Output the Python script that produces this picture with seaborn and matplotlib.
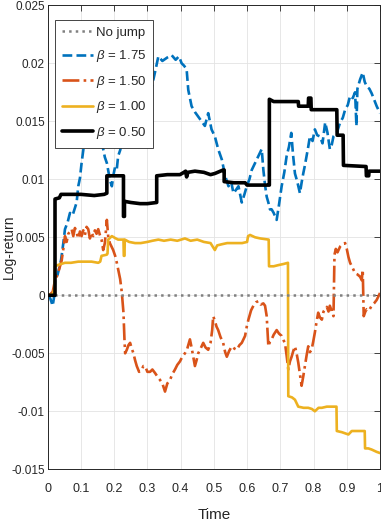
import matplotlib
matplotlib.use("Agg")
import matplotlib.pyplot as plt
import seaborn as sns

# Values (time in [0, 1], log-return)
x_ticks = [0, 0.1, 0.2, 0.3, 0.4, 0.5, 0.6, 0.7, 0.8, 0.9, 1.0]
x_tick_labels = ["0", "0.1", "0.2", "0.3", "0.4", "0.5", "0.6", "0.7", "0.8", "0.9", "1"]
y_ticks = [-0.015, -0.01, -0.005, 0, 0.005, 0.01, 0.015, 0.02, 0.025]
y_tick_labels = ["-0.015", "-0.01", "-0.005", "0", "0.005", "0.01", "0.015", "0.02", "0.025"]

labels = ["No jump", r"$\beta$ = 1.75", r"$\beta$ = 1.50", r"$\beta$ = 1.00", r"$\beta$ = 0.50"]

nojump_t = [0.0, 1.0]
nojump_y = [0.0, 0.0]

b175_t = [0, 0.008, 0.015, 0.02, 0.022, 0.03, 0.04, 0.047, 0.052, 0.06, 0.067, 0.075,
          0.087, 0.092, 0.097, 0.102, 0.107, 0.112, 0.117, 0.122, 0.13, 0.142, 0.147,
          0.152, 0.16, 0.167, 0.172, 0.178, 0.183, 0.187, 0.193, 0.198, 0.203, 0.208,
          0.212, 0.218, 0.223, 0.228, 0.233, 0.243, 0.253, 0.26, 0.268, 0.275, 0.283,
          0.293, 0.3, 0.308, 0.318, 0.325, 0.333, 0.345, 0.36, 0.373, 0.385, 0.395,
          0.403, 0.41, 0.418, 0.423, 0.428, 0.433, 0.443, 0.453, 0.463, 0.473, 0.483,
          0.493, 0.503, 0.513, 0.524, 0.534, 0.544, 0.552, 0.559, 0.567, 0.574, 0.584,
          0.592, 0.599, 0.607, 0.614, 0.624, 0.634, 0.644, 0.649, 0.654, 0.659, 0.664,
          0.669, 0.674, 0.68, 0.689, 0.696, 0.704, 0.712, 0.719, 0.726, 0.733, 0.738,
          0.744, 0.751, 0.759, 0.764, 0.769, 0.774, 0.779, 0.784, 0.789, 0.797, 0.804,
          0.811, 0.819, 0.827, 0.835, 0.842, 0.849, 0.855, 0.86, 0.87, 0.88, 0.888,
          0.895, 0.903, 0.91, 0.918, 0.925, 0.929, 0.932, 0.94, 0.948, 0.954, 0.96,
          0.968, 0.975, 0.983, 0.99, 0.995, 1.0]
b175_y = [0, -0.0003, -0.0009, 0.0, 0.0013, 0.0018, 0.0030, 0.0045, 0.0057, 0.0063,
          0.0071, 0.0069, 0.0080, 0.0094, 0.0101, 0.0114, 0.0125, 0.0134, 0.0141, 0.0146,
          0.0141, 0.0137, 0.0145, 0.0143, 0.0133, 0.0126, 0.0119, 0.0114, 0.0106, 0.0100,
          0.0094, 0.0104, 0.0111, 0.0109, 0.0120, 0.0125, 0.0131, 0.0140, 0.0151, 0.0157,
          0.0160, 0.0152, 0.0154, 0.0149, 0.0157, 0.0160, 0.0165, 0.0172, 0.0186, 0.0195,
          0.0206, 0.0202, 0.0205, 0.0207, 0.0203, 0.0206, 0.0200, 0.0198, 0.0195, 0.0177,
          0.0170, 0.0163, 0.0158, 0.0154, 0.0150, 0.0146, 0.0157, 0.0143, 0.0137, 0.0126,
          0.0117, 0.0103, 0.0094, 0.0098, 0.0088, 0.0091, 0.0094, 0.0080, 0.0087, 0.0094,
          0.0100, 0.0108, 0.0114, 0.0120, 0.0126, 0.0108, 0.0095, 0.0085, 0.0080, 0.0074,
          0.0074, 0.0071, 0.0065, 0.0078, 0.0094, 0.0106, 0.0120, 0.0128, 0.0140, 0.0122,
          0.0105, 0.0098, 0.0088, 0.0097, 0.0105, 0.0112, 0.0120, 0.0128, 0.0137, 0.0133,
          0.0143, 0.0138, 0.0137, 0.0131, 0.0149, 0.0140, 0.0126, 0.0130, 0.0137, 0.0140,
          0.0149, 0.0153, 0.0160, 0.0164, 0.0172, 0.0170, 0.0175, 0.0146, 0.0178, 0.0186,
          0.0192, 0.0184, 0.0180, 0.0178, 0.0174, 0.0168, 0.0163, 0.0160, 0.0157]

b150_t = [0, 0.008, 0.015, 0.022, 0.03, 0.037, 0.042, 0.047, 0.052, 0.057, 0.062, 0.067,
          0.072, 0.077, 0.082, 0.087, 0.092, 0.097, 0.102, 0.107, 0.112, 0.117, 0.122,
          0.127, 0.132, 0.137, 0.142, 0.147, 0.152, 0.157, 0.162, 0.167, 0.172, 0.178,
          0.182, 0.187, 0.192, 0.197, 0.203, 0.208, 0.213, 0.218, 0.222, 0.224, 0.228,
          0.231, 0.233, 0.238, 0.243, 0.248, 0.253, 0.258, 0.263, 0.268, 0.275, 0.283,
          0.288, 0.293, 0.3, 0.308, 0.315, 0.323, 0.33, 0.338, 0.345, 0.353, 0.36, 0.368,
          0.375, 0.383, 0.39, 0.398, 0.405, 0.413, 0.42, 0.428, 0.433, 0.438, 0.443,
          0.448, 0.453, 0.46, 0.468, 0.475, 0.483, 0.49, 0.495, 0.498, 0.503, 0.508,
          0.513, 0.52, 0.528, 0.534, 0.539, 0.546, 0.554, 0.562, 0.569, 0.577, 0.584,
          0.594, 0.599, 0.604, 0.612, 0.619, 0.627, 0.634, 0.641, 0.649, 0.654, 0.659,
          0.664, 0.669, 0.674, 0.68, 0.689, 0.696, 0.704, 0.71, 0.714, 0.719, 0.724,
          0.729, 0.734, 0.739, 0.744, 0.749, 0.754, 0.759, 0.764, 0.769, 0.774, 0.779,
          0.784, 0.789, 0.794, 0.799, 0.804, 0.809, 0.814, 0.819, 0.825, 0.83, 0.835,
          0.84, 0.845, 0.849, 0.855, 0.86, 0.863, 0.867, 0.872, 0.88, 0.887, 0.895, 0.9,
          0.905, 0.91, 0.917, 0.925, 0.932, 0.94, 0.945, 0.948, 0.951, 0.956, 0.96,
          0.967, 0.975, 0.982, 0.99, 0.995, 1.0]
b150_y = [0, 0.0001, 0.0003, 0.0013, 0.0018, 0.0025, 0.0030, 0.0040, 0.0051, 0.0046,
          0.0053, 0.0055, 0.0057, 0.0051, 0.0058, 0.0054, 0.0049, 0.0055, 0.0051, 0.0056,
          0.0052, 0.0059, 0.0057, 0.0049, 0.0054, 0.0051, 0.0056, 0.0053, 0.0057, 0.0052,
          0.0048, 0.0039, 0.0045, 0.0065, 0.0051, 0.0045, 0.0042, 0.0039, 0.0034, 0.0028,
          0.0021, 0.0014, 0.0005, -0.0001, -0.0015, -0.0038, -0.0050, -0.0047, -0.0043,
          -0.0041, -0.0046, -0.0050, -0.0056, -0.0061, -0.0066, -0.0064, -0.0061, -0.0061,
          -0.0066, -0.0066, -0.0064, -0.0067, -0.0070, -0.0073, -0.0076, -0.0083, -0.0076,
          -0.0073, -0.0068, -0.0064, -0.0060, -0.0057, -0.0053, -0.0050, -0.0046, -0.0038,
          -0.0045, -0.0053, -0.0061, -0.0056, -0.0050, -0.0046, -0.0041, -0.0045, -0.0047,
          -0.0041, -0.0030, -0.0018, -0.0022, -0.0027, -0.0030, -0.0036, -0.0041, -0.0049,
          -0.0053, -0.0048, -0.0044, -0.0046, -0.0047, -0.0043, -0.0041, -0.0035, -0.0027,
          -0.0021, -0.0013, -0.0009, -0.0006, -0.0005, -0.0008, -0.0007, -0.0009, -0.0018,
          -0.0044, -0.0040, -0.0038, -0.0034, -0.0030, -0.0033, -0.0035, -0.0039, -0.0041,
          -0.0052, -0.0064, -0.0057, -0.0053, -0.0048, -0.0044, -0.0050, -0.0058, -0.0068,
          -0.0078, -0.0070, -0.0061, -0.0052, -0.0044, -0.0049, -0.0047, -0.0040, -0.0032,
          -0.0023, -0.0015, -0.0019, -0.0021, -0.0014, -0.0012, -0.0010, -0.0014, -0.0009,
          -0.0014, -0.0018, 0.0035, 0.0040, 0.0037, 0.0042, 0.0044, 0.0045, 0.0040, 0.0033,
          0.0028, 0.0024, 0.0019, 0.0018, 0.0016, 0.0013, 0.0022, -0.0018, -0.0014, -0.0012,
          -0.0013, -0.0009, -0.0007, -0.0004, -0.0001, 0.0002]

b100_t = [0, 0.015, 0.02, 0.022, 0.03, 0.04, 0.052, 0.07, 0.092, 0.11, 0.132, 0.152,
          0.158, 0.162, 0.178, 0.18, 0.182, 0.193, 0.205, 0.212, 0.228, 0.229, 0.231,
          0.232, 0.245, 0.263, 0.28, 0.3, 0.315, 0.333, 0.35, 0.37, 0.39, 0.413, 0.43,
          0.45, 0.47, 0.49, 0.503, 0.51, 0.524, 0.54, 0.564, 0.585, 0.6, 0.603, 0.609,
          0.624, 0.64, 0.665, 0.666, 0.68, 0.694, 0.71, 0.723, 0.724, 0.735, 0.744, 0.754,
          0.77, 0.784, 0.795, 0.804, 0.815, 0.825, 0.84, 0.855, 0.869, 0.87, 0.885, 0.905,
          0.915, 0.93, 0.954, 0.955, 0.965, 0.975, 0.99, 1.0]
b100_y = [0, 0.0001, 0.0005, 0.0025, 0.0026, 0.0027, 0.0028, 0.0028, 0.0029, 0.0029,
          0.0029, 0.0028, 0.0029, 0.0034, 0.0035, 0.0036, 0.0048, 0.0051, 0.0049, 0.0048,
          0.0048, 0.0034, 0.0034, 0.0048, 0.0046, 0.0045, 0.0045, 0.0046, 0.0047, 0.0048,
          0.0047, 0.0048, 0.0047, 0.0049, 0.0047, 0.0048, 0.0046, 0.0045, 0.0039, 0.0043,
          0.0044, 0.0045, 0.0045, 0.0045, 0.0046, 0.0051, 0.0052, 0.0050, 0.0049, 0.0048,
          0.0025, 0.0025, 0.0026, 0.0027, 0.0028, -0.0087, -0.0088, -0.0090, -0.0096,
          -0.0097, -0.0097, -0.0098, -0.0100, -0.0097, -0.0097, -0.0096, -0.0096, -0.0096,
          -0.0117, -0.0118, -0.0120, -0.0117, -0.0117, -0.0117, -0.0132, -0.0132, -0.0133,
          -0.0135, -0.0136]

b050_t = [0, 0.022, 0.022, 0.035, 0.04, 0.06, 0.1, 0.14, 0.17, 0.178, 0.178, 0.228,
          0.228, 0.231, 0.231, 0.25, 0.278, 0.3, 0.328, 0.328, 0.36, 0.398, 0.41, 0.415,
          0.418, 0.422, 0.443, 0.47, 0.49, 0.503, 0.528, 0.531, 0.531, 0.56, 0.594, 0.6,
          0.664, 0.667, 0.667, 0.68, 0.754, 0.755, 0.784, 0.785, 0.792, 0.793, 0.87,
          0.871, 0.889, 0.89, 0.958, 0.959, 0.966, 0.967, 1.0]
b050_y = [0, 0, 0.0083, 0.0084, 0.0087, 0.0087, 0.0087, 0.0086, 0.0087, 0.0088, 0.0103,
          0.0103, 0.0068, 0.0068, 0.0081, 0.0080, 0.0079, 0.0079, 0.0080, 0.0103, 0.0104,
          0.0104, 0.0106, 0.0107, 0.0102, 0.0106, 0.0107, 0.0106, 0.0104, 0.0105, 0.0108,
          0.0108, 0.0098, 0.0097, 0.0097, 0.0095, 0.0095, 0.0095, 0.0169, 0.0167, 0.0167,
          0.0163, 0.0163, 0.0170, 0.0170, 0.0160, 0.0160, 0.0138, 0.0138, 0.0112, 0.0111,
          0.0103, 0.0103, 0.0107, 0.0107]

sns.set_style("whitegrid")
plt.rcParams['font.family'] = ['Liberation Sans', 'DejaVu Sans']
plt.rcParams['mathtext.fontset'] = 'custom'
plt.rcParams['mathtext.rm'] = 'Liberation Sans'
plt.rcParams['mathtext.it'] = 'Liberation Sans:italic'

fig = plt.figure(figsize=(3.81, 5.23), dpi=100)
ax = fig.add_axes([0.1252, 0.1027, 0.8722, 0.8872])

sns.lineplot(x=b175_t, y=b175_y, ax=ax, sort=False, estimator=None, color='#0072BD',
             linestyle='--', linewidth=1.9, label=labels[1], zorder=2)
sns.lineplot(x=b150_t, y=b150_y, ax=ax, sort=False, estimator=None, color='#D95319',
             linestyle='-.', linewidth=1.9, label=labels[2], zorder=2)
sns.lineplot(x=b100_t, y=b100_y, ax=ax, sort=False, estimator=None, color='#EDB120',
             linestyle='-', linewidth=1.9, label=labels[3], zorder=2)
sns.lineplot(x=nojump_t, y=nojump_y, ax=ax, sort=False, estimator=None, color='#808080',
             linestyle=':', linewidth=1.8, label=labels[0], zorder=3)
sns.lineplot(x=b050_t, y=b050_y, ax=ax, sort=False, estimator=None, color='black',
             linestyle='-', linewidth=2.6, label=labels[4], zorder=4)

ax.set_xlim(0, 1)
ax.set_ylim(-0.015, 0.025)
ax.set_xticks(x_ticks)
ax.set_xticklabels(x_tick_labels)
ax.set_yticks(y_ticks)
ax.set_yticklabels(y_tick_labels)
ax.grid(True, color='#e3e3e3', linewidth=0.6)
ax.tick_params(direction='in', length=4, width=0.6, top=True, right=True,
               colors='#262626', labelsize=8.5)
ax.tick_params(axis='x', pad=10, labelsize=9)
ax.tick_params(axis='y', pad=2)
for s in ax.spines.values():
    s.set_color('#262626')
    s.set_linewidth(0.7)

ax.set_xlabel('Time', fontsize=11, color='#262626', labelpad=9)
ax.set_ylabel('Log-return', fontsize=10, color='#262626')
ax.yaxis.set_label_coords(-0.096, 0.48)

handles, lbls = ax.get_legend_handles_labels()
order = [lbls.index(l) for l in labels]
leg = ax.legend([handles[i] for i in order], [lbls[i] for i in order],
                loc='upper left', bbox_to_anchor=(0.022, 0.968), borderaxespad=0,
                fontsize=9.5, frameon=True, fancybox=False, framealpha=1,
                edgecolor='#262626', labelspacing=0.72, borderpad=0.5,
                handlelength=2.4, handletextpad=0.2)
leg.get_frame().set_linewidth(0.6)

fig.savefig('out.png', dpi=100)
